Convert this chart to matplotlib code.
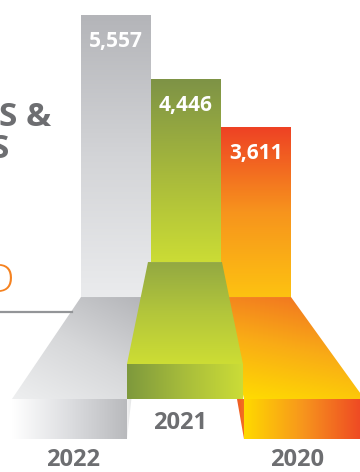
import numpy as np
import matplotlib
matplotlib.use("Agg")
import matplotlib.pyplot as plt
from matplotlib.patches import Polygon
from matplotlib.colors import LinearSegmentedColormap

# data
years = ["2022", "2021", "2020"]
values = [5557, 4446, 3611]

# colours (top -> bottom for bars)
bar_colors = [
    ["#b4b5b9", "#d3d4d7", "#eaebed"],
    ["#7e9346", "#a6b83c", "#cbdc35"],
    ["#ee4224", "#f7941d", "#fdc211"],
]
grey_text = "#6d6e71"

plt.rcParams["font.family"] = ["Open Sans", "DejaVu Sans"]

fig = plt.figure(figsize=(3.6, 4.72), dpi=100)
ax = fig.add_axes([0, 0, 1, 1])
ax.set_xlim(-1.657, 3.486)
ax.set_ylim(-2380, 5821)
ax.axis("off")


def gradient(ax, clip, extent, colors, vx=0.0, vy=-1.0, z=1):
    # fill a patch with a linear gradient along direction (vx, vy)
    n = 200
    X, Y = np.meshgrid(np.linspace(0, 1, n), np.linspace(1, 0, n))
    t = vx * X + vy * Y
    t = (t - t.min()) / (t.max() - t.min())
    cmap = LinearSegmentedColormap.from_list("g", colors)
    im = ax.imshow(t, cmap=cmap, extent=extent, origin="upper",
                   aspect="auto", interpolation="bilinear", zorder=z)
    im.set_clip_path(clip)
    return im


def poly(ax, verts, colors, vx=0.0, vy=-1.0, z=2):
    p = Polygon(verts, closed=True, facecolor="none", edgecolor="none", zorder=z)
    ax.add_patch(p)
    xs = [v[0] for v in verts]
    ys = [v[1] for v in verts]
    gradient(ax, p, (min(xs), max(xs), min(ys), max(ys)), colors, vx, vy, z)


# the floor level where each bar turns into its 3D base
floor_top = [660, 1268, 660]

x = np.arange(len(years))
bars = ax.bar(x, values, width=1.0, color="none", edgecolor="none", zorder=1)
for i, b in enumerate(bars):
    gradient(ax, b, (i - 0.5, i + 0.5, floor_top[i], values[i]), bar_colors[i], z=1)
    ax.annotate(f"{values[i]:,}", (i, values[i]), xytext=(0, -19),
                textcoords="offset points", ha="center", va="center",
                color="white", fontsize=15, fontweight="bold", zorder=10)

# grey base
poly(ax, [(-0.5, 660), (0.5, 660), (0.214, -1112), (-1.486, -1112)],
     ["#eeeff0", "#d6d7d9", "#b2b3b7"], vx=0.6, vy=0.8, z=2)
poly(ax, [(-1.486, -1112), (0.157, -1112), (0.157, -1807), (-1.486, -1807)],
     ["#ffffff", "#dcdde0", "#b8b9bc"], vx=1.0, vy=0.0, z=2)
poly(ax, [(0.157, -1112), (0.22, -1112), (0.157, -1807)],
     ["#f2f2f3", "#e4e5e6"], vx=1.0, vy=0.0, z=2)

# orange base
poly(ax, [(1.5, 660), (2.5, 660), (3.55, -1112), (1.829, -1112)],
     ["#f06a23", "#f9ab16", "#ffdf00"], vx=-0.3, vy=-1.0, z=3)
poly(ax, [(1.829, -1112), (3.55, -1112), (3.55, -1807), (1.829, -1807)],
     ["#ffd900", "#f7941d", "#ee4524"], vx=1.0, vy=0.0, z=3)
poly(ax, [(1.729, -1112), (1.829, -1112), (1.829, -1807)],
     ["#f05a24", "#f37021"], vx=1.0, vy=0.0, z=3)

# green base
poly(ax, [(0.457, 1268), (1.514, 1268), (1.814, -504), (0.157, -504)],
     ["#93a942", "#b3c63b", "#cddd34"], vx=0.0, vy=-1.0, z=4)
poly(ax, [(0.157, -504), (1.814, -504), (1.814, -1112), (0.157, -1112)],
     ["#7e993d", "#a8bd3b", "#cbdc37"], vx=1.0, vy=0.0, z=4)

# year labels
year_pos = [(-0.614, -2180), (0.914, -1529), (2.586, -2180)]
for yr, (xx, yy) in zip(years, year_pos):
    ax.text(xx, yy, yr, ha="center", va="center", color=grey_text,
            fontsize=17, fontweight="bold", zorder=10)

# cropped title text on the left
fig.text(-1 / 360, 1 - 117 / 472, "S &", ha="left", va="center",
         color=grey_text, fontsize=24, fontweight="bold")
fig.text(-9 / 360, 1 - 150 / 472, "S", ha="left", va="center",
         color=grey_text, fontsize=24, fontweight="bold")
fig.text(14 / 360, 1 - 282 / 472, "D", ha="right", va="center",
         color="#f58220", fontsize=28, fontweight="light")
fig.add_artist(plt.Line2D([0, 72 / 360], [1 - 312 / 472] * 2,
                          color="#939598", lw=1.6, transform=fig.transFigure))

fig.savefig("out.png", dpi=100)
